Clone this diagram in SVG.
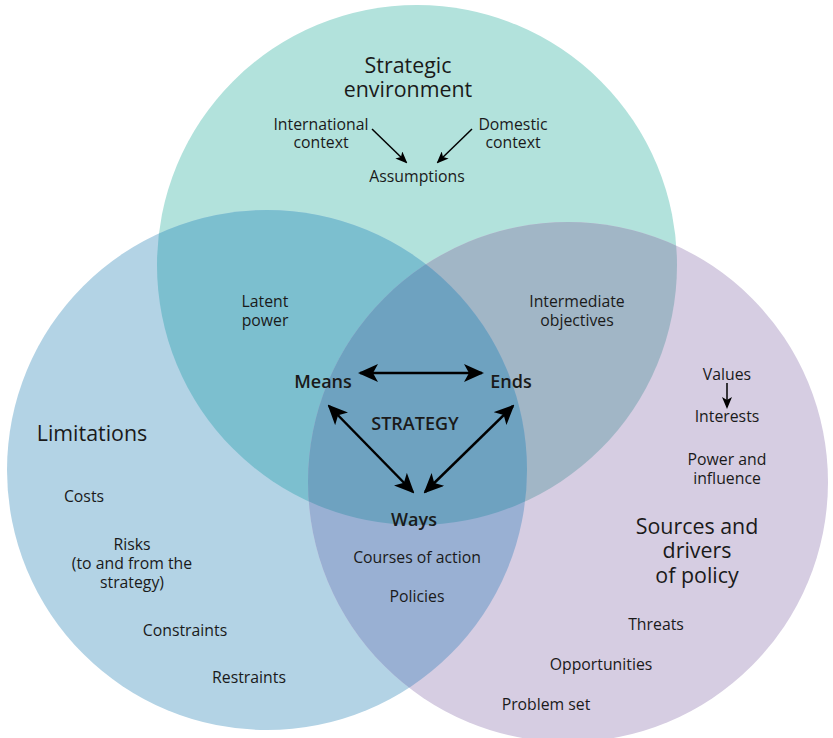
<svg xmlns="http://www.w3.org/2000/svg" width="833" height="738" viewBox="0 0 833 738">
<style>
text{font-family:"Open Sans","Noto Sans","Liberation Sans",sans-serif;fill:#1a1a1a;text-anchor:middle}
.s{font-size:15.8px}
.l{font-size:21.4px}
.b{font-size:18px;font-weight:600}
.ar{stroke:#000;stroke-width:1.5;fill:none}
.ab{stroke:#000;stroke-width:2.5;fill:none}
</style>
<defs>
<clipPath id="cT"><circle cx="417" cy="265" r="260"/></clipPath>
<clipPath id="cB"><circle cx="267" cy="470" r="260"/></clipPath>
<clipPath id="cP"><circle cx="568" cy="482" r="260"/></clipPath>
<marker id="mS" viewBox="0 0 12 10" refX="10" refY="5" markerWidth="12" markerHeight="10" markerUnits="userSpaceOnUse" orient="auto"><path d="M0,0 L12,5 L0,10 L3,5 z" fill="#000"/></marker>
<marker id="mB" viewBox="0 0 20 18" refX="18" refY="9" markerWidth="20" markerHeight="18" markerUnits="userSpaceOnUse" orient="auto-start-reverse"><path d="M0,0 L20,9 L0,18 L5,9 z" fill="#000"/></marker>
</defs>
<g id="circles">
<circle cx="417" cy="265" r="260" fill="#b2e2dc"/>
<circle cx="267" cy="470" r="260" fill="#b3d3e5"/>
<circle cx="568" cy="482" r="260" fill="#d6cde2"/>
<circle cx="417" cy="265" r="260" fill="#7cbfcf" clip-path="url(#cB)"/>
<circle cx="417" cy="265" r="260" fill="#a1b6c6" clip-path="url(#cP)"/>
<circle cx="267" cy="470" r="260" fill="#99b0d3" clip-path="url(#cP)"/>
<g clip-path="url(#cP)"><circle cx="417" cy="265" r="260" fill="#6ea2c0" clip-path="url(#cB)"/></g>
</g>
<g id="connectors">
<line class="ar" x1="372" y1="129" x2="406" y2="162" marker-end="url(#mS)"/>
<line class="ar" x1="472" y1="129" x2="438" y2="162" marker-end="url(#mS)"/>
<line class="ar" x1="727" y1="383" x2="727" y2="407" marker-end="url(#mS)"/>
<line class="ab" x1="360" y1="373" x2="482" y2="373" marker-start="url(#mB)" marker-end="url(#mB)"/>
<line class="ab" x1="329" y1="406" x2="413" y2="492" marker-start="url(#mB)" marker-end="url(#mB)"/>
<line class="ab" x1="513" y1="406" x2="425" y2="492" marker-start="url(#mB)" marker-end="url(#mB)"/>
</g>
<g id="strategic-environment">
<text class="l" x="408" y="73">Strategic</text>
<text class="l" x="408" y="97">environment</text>
</g>
<g id="international-context"><text class="s" x="321" y="130">International</text><text class="s" x="321" y="148">context</text></g>
<g id="domestic-context"><text class="s" x="513" y="130">Domestic</text><text class="s" x="513" y="148">context</text></g>
<g id="assumptions"><text class="s" x="417" y="182">Assumptions</text></g>
<g id="latent-power"><text class="s" x="265" y="307">Latent</text><text class="s" x="265" y="326">power</text></g>
<g id="intermediate-objectives"><text class="s" x="577" y="307">Intermediate</text><text class="s" x="577" y="326">objectives</text></g>
<g id="means"><text class="b" x="323" y="388">Means</text></g>
<g id="ends"><text class="b" x="511" y="388">Ends</text></g>
<g id="strategy"><text class="b" x="415" y="430">STRATEGY</text></g>
<g id="ways"><text class="b" x="414" y="526">Ways</text></g>
<g id="limitations"><text class="l" x="92" y="441">Limitations</text></g>
<g id="costs"><text class="s" x="84" y="502">Costs</text></g>
<g id="risks"><text class="s" x="132" y="550">Risks</text><text class="s" x="132" y="569">(to and from the</text><text class="s" x="132" y="588">strategy)</text></g>
<g id="constraints"><text class="s" x="185" y="636">Constraints</text></g>
<g id="restraints"><text class="s" x="249" y="683">Restraints</text></g>
<g id="courses-of-action"><text class="s" x="417" y="563">Courses of action</text></g>
<g id="policies"><text class="s" x="417" y="602">Policies</text></g>
<g id="values"><text class="s" x="727" y="380">Values</text></g>
<g id="interests"><text class="s" x="727" y="422">Interests</text></g>
<g id="power-influence"><text class="s" x="727" y="465">Power and</text><text class="s" x="727" y="484">influence</text></g>
<g id="sources-drivers"><text class="l" x="697" y="534">Sources and</text><text class="l" x="697" y="558">drivers</text><text class="l" x="697" y="583">of policy</text></g>
<g id="threats"><text class="s" x="656" y="630">Threats</text></g>
<g id="opportunities"><text class="s" x="601" y="670">Opportunities</text></g>
<g id="problem-set"><text class="s" x="546" y="710">Problem set</text></g>
</svg>
